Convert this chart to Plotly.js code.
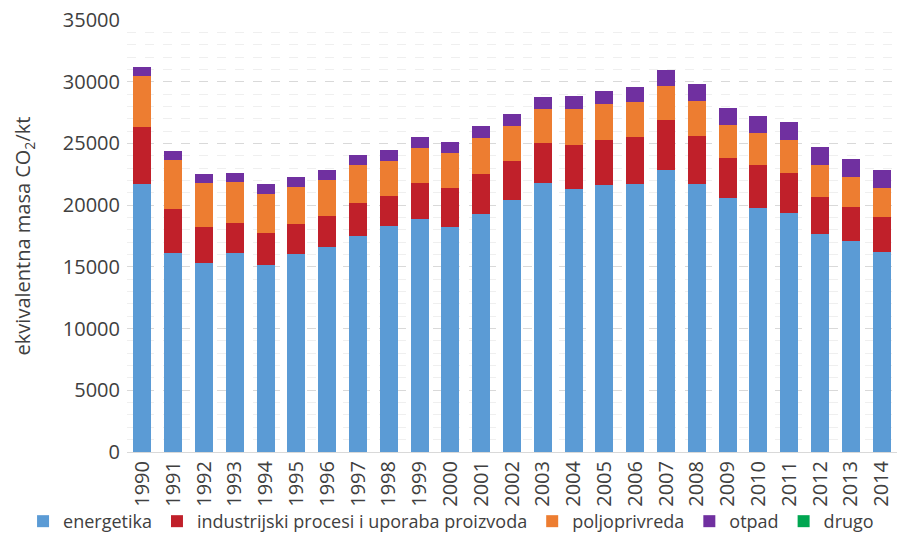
<!DOCTYPE html>
<html>
<head>
<meta charset="utf-8">
<script src="https://cdn.plot.ly/plotly-3.0.1.min.js"></script>
<style>html,body{margin:0;padding:0;background:#fff;}#chart{width:901px;height:533px;}</style>
</head>
<body>
<div id="chart"></div>
<script>
const years = ['1990','1991','1992','1993','1994','1995','1996','1997','1998','1999','2000','2001','2002','2003','2004','2005','2006','2007','2008','2009','2010','2011','2012','2013','2014'];
const energetika = [21719,16127,15292,16127,15130,16046,16637,17480,18315,18858,18234,19288,20422,21800,21289,21638,21719,22877,21719,20584,19774,19369,17691,17124,16184];
const industrija = [4619,3566,2942,2431,2642,2455,2488,2723,2455,2917,3161,3217,3161,3217,3566,3622,3809,4028,3914,3242,3484,3265,2974,2731,2885];
const poljoprivreda = [4157,3995,3590,3347,3161,2999,2942,3080,2837,2861,2860,2942,2836,2755,2942,2942,2836,2780,2812,2674,2594,2675,2593,2431,2301];
const otpad = [681,705,681,705,761,762,786,810,843,867,867,947,973,997,1053,1053,1191,1272,1353,1378,1377,1434,1459,1459,1459];
const drugo = [0,0,0,0,0,0,0,0,0,0,0,0,0,0,0,0,0,0,0,0,0,0,0,0,0];
const seriesNames = ['energetika','industrijski procesi i uporaba proizvoda','poljoprivreda','otpad','drugo'];
const seriesColors = ['#5B9BD5','#C0202A','#ED7D31','#7030A0','#00A651'];
const seriesData = [energetika, industrija, poljoprivreda, otpad, drugo];

const traces = seriesData.map((d, i) => ({
  type: 'bar',
  x: years,
  y: d,
  name: seriesNames[i],
  marker: {color: seriesColors[i], line: {width: 0}},
  hoverinfo: 'x+y+name'
}));

const layout = {
  width: 901, height: 533,
  barmode: 'stack',
  bargap: 0.42,
  paper_bgcolor: '#fff', plot_bgcolor: '#fff',
  font: {family: '"Open Sans", "Noto Sans", sans-serif', color: '#404040', size: 20},
  margin: {l: 127, r: 4, t: 20, b: 81, autoexpand: false},
  xaxis: {
    type: 'category',
    tickangle: -90,
    tickfont: {size: 20},
    showgrid: false,
    showline: true, linecolor: '#d9d9d9', linewidth: 1,
    ticks: '',
    automargin: false,
    range: [-0.5, 24.5]
  },
  yaxis: {
    range: [0, 35000],
    dtick: 5000,
    tickformat: 'd',
    tickfont: {size: 20},
    ticklabelstandoff: 6,
    showgrid: true, gridcolor: '#d9d9d9', griddash: 'dash', gridwidth: 1,
    zeroline: false,
    ticks: '',
    automargin: false,
    minor: {dtick: 1000, showgrid: true, gridcolor: '#efefef', griddash: 'dash', gridwidth: 1},
    title: {text: 'ekvivalentna masa CO<sub>2</sub>/kt', font: {size: 20}, standoff: 26}
  },
  legend: {
    orientation: 'h',
    x: -0.135, xanchor: 'left',
    y: -0.118, yanchor: 'top',
    font: {size: 18},
    traceorder: 'normal',
    itemwidth: 30,
    bgcolor: 'rgba(0,0,0,0)'
  },
  showlegend: true
};

Plotly.newPlot('chart', traces, layout, {displayModeBar: false, staticPlot: true});
</script>
</body>
</html>
